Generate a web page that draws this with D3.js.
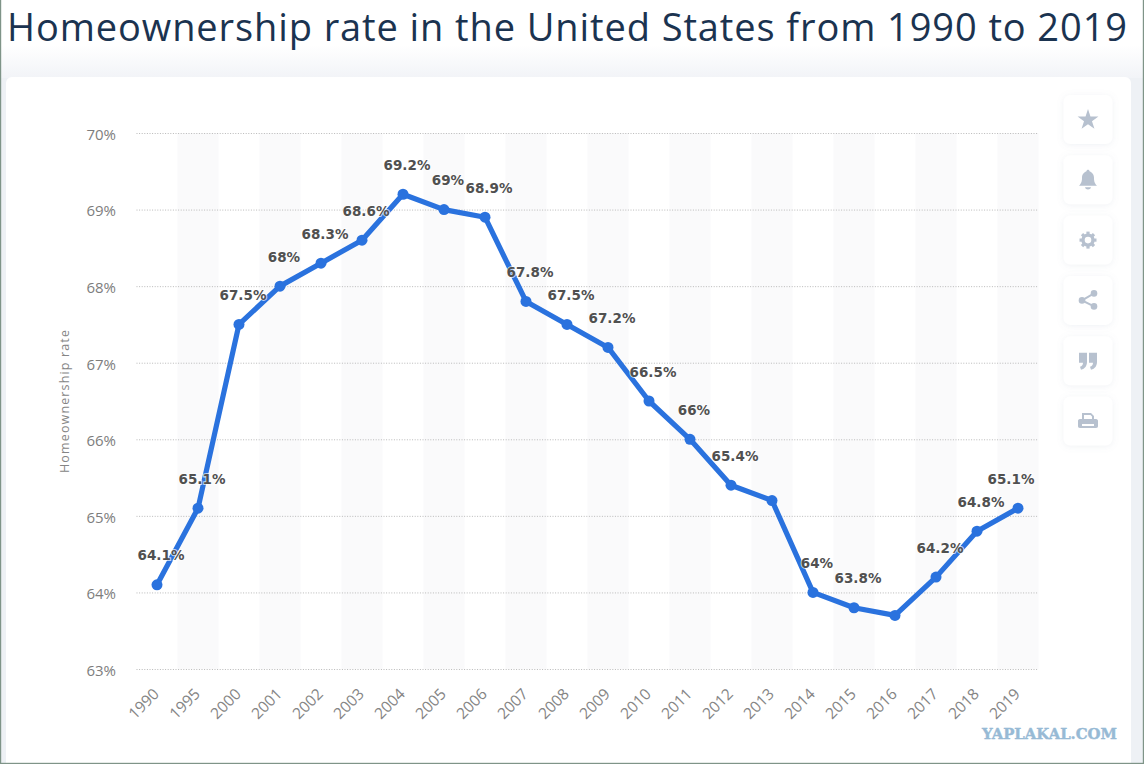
<!DOCTYPE html>
<html><head><meta charset="utf-8">
<script src="https://cdn.jsdelivr.net/npm/d3@7"></script>
<style>html,body{margin:0;padding:0;background:#fff}svg{display:block}</style>
</head><body><svg id="c" width="1144" height="764" font-family="'Open Sans',sans-serif"></svg>
<script>
const years=["1990","1995","2000","2001","2002","2003","2004","2005","2006","2007","2008","2009","2010","2011","2012","2013","2014","2015","2016","2017","2018","2019"];
const rates=[64.1,65.1,67.5,68,68.3,68.6,69.2,69,68.9,67.8,67.5,67.2,66.5,66,65.4,65.2,64,63.8,63.7,64.2,64.8,65.1];
const unlabeled=["2013","2016"];
const yTicks=[63,64,65,66,67,68,69,70];
const titleText="Homeownership rate in the United States from 1990 to 2019";
const yTitle="Homeownership rate";

const svg=d3.select("#c");
const defs=svg.append("defs");
const bg=defs.append("linearGradient").attr("id","bg").attr("x1",0).attr("y1",0).attr("x2",0).attr("y2",1);
bg.append("stop").attr("offset","0").attr("stop-color","#ffffff");
bg.append("stop").attr("offset","1").attr("stop-color","#f1f3f7");
const sh=defs.append("filter").attr("id","sh").attr("x","-30%").attr("y","-30%").attr("width","160%").attr("height","160%");
sh.append("feDropShadow").attr("dx",0).attr("dy",1).attr("stdDeviation",3).attr("flood-color","#8a98ad").attr("flood-opacity",.13);

svg.append("rect").attr("width",1144).attr("height",764).attr("fill","#fff");
svg.append("rect").attr("y",45).attr("width",1144).attr("height",35).attr("fill","url(#bg)");
svg.append("rect").attr("y",78).attr("width",1144).attr("height",686).attr("fill","#eef1f5");
svg.append("rect").attr("x",6).attr("y",77).attr("width",1125).attr("height",700).attr("rx",6).attr("fill","#fff");
svg.append("rect").attr("x",0).attr("y",0).attr("width",1.2).attr("height",764).attr("fill","#7f9488");
svg.append("rect").attr("x",1142.8).attr("y",0).attr("width",1.2).attr("height",764).attr("fill","#7f9488");
svg.append("rect").attr("x",0).attr("y",762.8).attr("width",1144).attr("height",1.2).attr("fill","#7f9488");

svg.append("text").attr("x",7).attr("y",40.5).attr("fill","#1b3350")
  .attr("font-size",38).attr("textLength",1120).attr("lengthAdjust","spacing").text(titleText);

const x=d3.scaleBand().domain(years).range([136.5,1038.5]);
const y=d3.scaleLinear().domain([63,70]).range([669,133]);
const cx=d=>x(d)+x.bandwidth()/2;

// stripes
svg.append("g").selectAll("rect").data(years.filter((d,i)=>i%2==1)).join("rect")
  .attr("x",d=>x(d)).attr("width",x.bandwidth()).attr("y",y(70)).attr("height",y(63)-y(70)).attr("fill","#fafafb");

// y axis
const gy=svg.append("g").attr("transform","translate(136.5,0)")
  .call(d3.axisLeft(y).tickValues(yTicks).tickSize(0).tickPadding(20.5).tickFormat(d=>d+"%"));
gy.select(".domain").remove();
gy.selectAll("text").attr("font-size",15).attr("fill","#7d7d7d").attr("font-family","'Open Sans',sans-serif").attr("dy","0.42em");
gy.selectAll("line").attr("x2",902).attr("stroke","#b9b9b9").attr("stroke-dasharray","1 1.6");

// x axis
const gx=svg.append("g").attr("transform","translate(0,669)")
  .call(d3.axisBottom(x).tickSize(0).tickPadding(0));
gx.select(".domain").remove();
gx.selectAll("text").attr("font-size",15.5).attr("fill","#858585").attr("font-family","'Open Sans',sans-serif")
  .attr("text-anchor","end").attr("dy",0)
  .attr("transform","translate(3,26) rotate(-45)");

svg.append("text").attr("transform","translate(69,401.500) rotate(-90)").attr("text-anchor","middle")
  .attr("font-size",12.5).attr("textLength",143).attr("fill","#858585").text(yTitle);

// line
const line=d3.line().x((d,i)=>cx(years[i])).y(d=>y(d));
svg.append("path").datum(rates).attr("d",line).attr("fill","none").attr("stroke","#2a72de").attr("stroke-width",5.2).attr("stroke-linejoin","round");
svg.append("g").selectAll("circle").data(rates).join("circle")
  .attr("cx",(d,i)=>cx(years[i])).attr("cy",d=>y(d)).attr("r",5.5).attr("fill","#2a72de");

// value labels
svg.append("g").selectAll("text").data(rates.map((v,i)=>({v,yr:years[i]})).filter(d=>!unlabeled.includes(d.yr))).join("text")
  .attr("x",d=>d.yr==="2019"?cx(d.yr)-7:cx(d.yr)+4)
  .attr("y",d=>y(d.v)-24.5)
  .attr("text-anchor","middle").attr("font-size",13.5).attr("font-weight",700)
  .attr("font-family","'DejaVu Sans',sans-serif")
  .attr("fill","#505050").attr("stroke","#fff").attr("stroke-width",2).attr("stroke-opacity",.7).attr("paint-order","stroke")
  .text(d=>d.v+"%");

// side buttons
const iconColor="#b7c1cf";
const icons=[
 g=>g.append("path").attr("d",d3.symbol(d3.symbolStar,135)()).attr("transform","translate(0,0.500)"),
 g=>g.append("path").attr("d","M-9 6C-6 3-6 0-6-2C-6-6-3-8-1.500-8.500C-1.500-10.500 1.500-10.500 1.500-8.500C3-8 6-6 6-2C6 0 6 3 9 6ZM-3 7.500H3C2.500 10.500-2.500 10.500-3 7.500Z"),
 g=>{g.append("circle").attr("r",5).attr("fill","none").attr("stroke",iconColor).attr("stroke-width",3.4);
     d3.range(8).forEach(i=>g.append("rect").attr("x",-1.600).attr("y",-8.500).attr("width",3.2).attr("height",3.2).attr("transform",`rotate(${i*45})`));},
 g=>{[[6,-7],[-6,0],[6,6]].forEach(p=>g.append("circle").attr("cx",p[0]).attr("cy",p[1]).attr("r",3.3));
     g.append("path").attr("d","M6-7L-6 0L6 6").attr("fill","none").attr("stroke",iconColor).attr("stroke-width",2);},
 g=>g.append("path").attr("d","M-9-8H-1V1C-1 5-3 8-7 9L-8 6C-6 5.500-5 4-5 2H-9ZM1-8H9V1C9 5 7 8 3 9L2 6C4 5.500 5 4 5 2H1Z"),
 g=>g.append("path").attr("fill-rule","evenodd").attr("d","M-6-8H3L6-5V-2H8C9.500-2 10 -1 10 0V5C10 6 9.500 7 8 7H-8C-9.500 7-10 6-10 5V0C-10-1-9.500-2-8-2H-6ZM-4-6V-2H4V-4.500L2.500-6ZM-6 3V5H6V3Z")
];
const btn=svg.append("g").selectAll("g").data(icons).join("g").attr("transform",(d,i)=>`translate(1088,${119.500+i*60.3})`);
btn.append("rect").attr("x",-24.500).attr("y",-24.500).attr("width",49).attr("height",49).attr("rx",7).attr("fill","#fff").attr("filter","url(#sh)");
btn.each(function(f){const g=d3.select(this).append("g").attr("fill",iconColor);f(g);});

svg.append("text").attr("x",982).attr("y",739).attr("font-size",14).attr("font-weight",900)
 .attr("font-family","'DejaVu Serif',serif").attr("fill","#97bad5").attr("stroke","#97bad5").attr("stroke-width",.4).attr("textLength",135).attr("lengthAdjust","spacingAndGlyphs").text("YAPLAKAL.COM");
</script></body></html>
